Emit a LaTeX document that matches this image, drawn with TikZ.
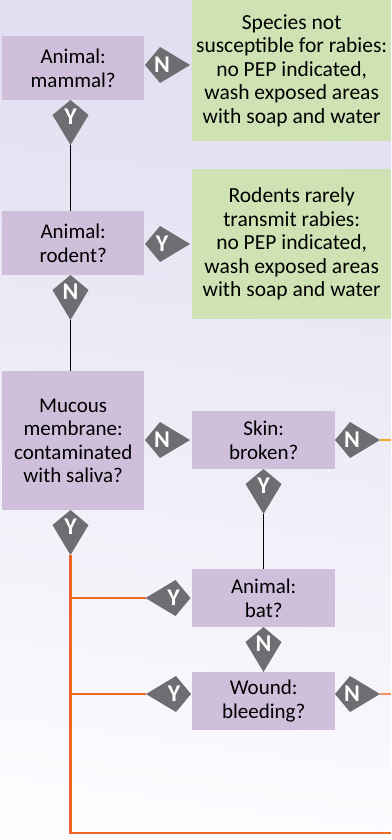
\documentclass[tikz,border=0pt]{standalone}
\usepackage{fontspec}
\setmainfont{Carlito}
\definecolor{boxpurple}{HTML}{CFBFDB}
\definecolor{boxgreen}{HTML}{CFE2B4}
\definecolor{kitegray}{HTML}{6D6E71}
\definecolor{linkorange}{HTML}{F26522}
\definecolor{linkamber}{HTML}{F7A823}
\definecolor{bgtop}{HTML}{E0DEF0}
\definecolor{bgmid}{HTML}{EFEEF8}
\definecolor{bgbot}{HTML}{FCFBFE}
\tikzset{
  question/.style={fill=boxpurple,anchor=north west,align=center,inner sep=0pt,font=\fontsize{21}{23.5}\selectfont},
  advice/.style={fill=boxgreen,anchor=north west,align=center,inner sep=0pt,font=\fontsize{21.5}{23.5}\selectfont},
  kiteletter/.style={text=white,inner sep=0pt,font=\fontsize{24}{24}\selectfont\bfseries},
  nolink/.style={line width=1.2pt,black},
  hotlink/.style={line width=2.4pt,linkorange},
  amberlink/.style={line width=1.6pt,linkamber},
  softlink/.style={line width=1.6pt,linkorange!70!white},
}
% name, back x, back y, direction angle, letter
\newcommand{\kitemark}[5]{%
  \begin{scope}[shift={(#2,#3)},rotate=#4]
    \fill[kitegray] (0,0) -- (15,18) -- (45,0) -- (15,-18) -- cycle;
    \coordinate (#1tip) at (45,0);
    \coordinate (#1mid) at (17,0);
  \end{scope}
  \node[kiteletter] (#1) at (#1mid) {#5};%
}
\begin{document}
\begin{tikzpicture}[x=1pt,y=-1pt]
\useasboundingbox (0,0) rectangle (391,840);
\shade[top color=bgtop,middle color=bgmid,bottom color=bgbot,shading angle=-8] (0,0) rectangle (391,840);

\node[question,minimum width=142pt,minimum height=64pt] (mammal) at (2,36) {Animal:\\mammal?};
\node[question,minimum width=142pt,minimum height=64pt] (rodent) at (2,211) {Animal:\\rodent?};
\node[question,minimum width=142pt,minimum height=139pt] (mucous) at (2,371) {Mucous\\membrane:\\contaminated\\with saliva?};
\node[question,minimum width=143pt,minimum height=58pt] (skin) at (192,411) {Skin:\\broken?};
\node[question,minimum width=143pt,minimum height=58pt] (bat) at (192,569) {Animal:\\bat?};
\node[question,minimum width=143pt,minimum height=58pt] (wound) at (192,672) {Wound:\\bleeding?};
\node[advice,minimum width=199pt,minimum height=141pt] (species) at (192,0) {Species not\\susceptible for rabies:\\no PEP indicated,\\wash exposed areas\\with soap and water};
\node[advice,minimum width=199pt,minimum height=150pt] (rodents) at (192,169) {Rodents rarely\\transmit rabies:\\no PEP indicated,\\wash exposed areas\\with soap and water};

\kitemark{nA}{145}{65}{0}{N}
\kitemark{yA}{70.5}{100}{-90}{Y}
\kitemark{yB}{145}{244}{0}{Y}
\kitemark{nB}{70.5}{275}{-90}{N}
\kitemark{nC}{145}{440}{0}{N}
\kitemark{nD}{335}{440}{0}{N}
\kitemark{yC}{263.5}{469}{-90}{Y}
\kitemark{yD}{70.5}{510}{-90}{Y}
\kitemark{yE}{190.5}{598}{180}{Y}
\kitemark{nE}{263.5}{627}{-90}{N}
\kitemark{yF}{191}{694}{180}{Y}
\kitemark{nF}{335}{694}{0}{N}

\coordinate (amberend) at (391,440);
\coordinate (softend) at (391,694);
\coordinate (bottomend) at (391,833);

\draw[nolink] (yAtip) -- (yAtip |- rodent.north);
\draw[nolink] (nBtip) -- (nBtip |- mucous.north);
\draw[nolink] (yCtip) -- (yCtip |- bat.north);
\draw[amberlink] (nDtip) -- (amberend);
\draw[softlink] (nFtip) -- (softend);
\draw[hotlink] (yDtip) -- (yDtip |- bottomend) -- (bottomend);
\draw[hotlink] (yEtip) -- (yEtip -| yDtip);
\draw[hotlink] (yFtip) -- (yFtip -| yDtip);
\end{tikzpicture}
\end{document}
